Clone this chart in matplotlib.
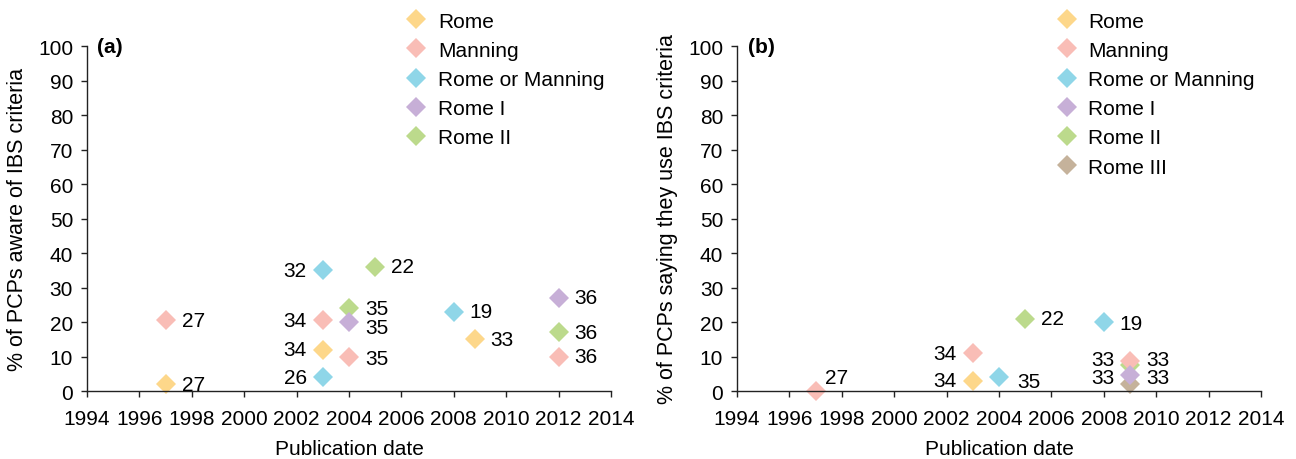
import matplotlib
matplotlib.use("Agg")
import matplotlib.pyplot as plt
from matplotlib.lines import Line2D

plt.rcParams["font.family"] = ["Liberation Sans", "DejaVu Sans"]
plt.rcParams["font.size"] = 15

# colours per criteria
COLORS = {
    "Rome": "#FDD78A",
    "Manning": "#F9BDB6",
    "Rome or Manning": "#8FD6E8",
    "Rome I": "#C7AFD7",
    "Rome II": "#BCDA8C",
    "Rome III": "#C5B29B",
}

# (a) awareness of IBS criteria
a_legend = ["Rome", "Manning", "Rome or Manning", "Rome I", "Rome II"]
a_series = ["Manning", "Rome", "Rome or Manning", "Manning", "Rome", "Rome or Manning",
            "Rome II", "Rome I", "Manning", "Rome II", "Rome or Manning", "Rome",
            "Rome I", "Rome II", "Manning"]
a_year = [1997, 1997, 2003, 2003, 2003, 2003, 2004, 2004, 2004, 2005, 2008, 2008.8,
          2012, 2012, 2012]
a_pct = [20.5, 2, 35, 20.5, 12, 4, 24, 20, 10, 36, 23, 15, 27, 17, 10]
a_ref = ["27", "27", "32", "34", "34", "26", "35", "35", "35", "22", "19", "33",
         "36", "36", "36"]

# (b) use of IBS criteria
b_legend = ["Rome", "Manning", "Rome or Manning", "Rome I", "Rome II", "Rome III"]
b_series = ["Manning", "Manning", "Rome", "Rome or Manning", "Rome II", "Rome or Manning",
            "Rome II", "Manning", "Rome III", "Rome I"]
b_year = [1997, 2003, 2003, 2004, 2005, 2008, 2009, 2009, 2009, 2009]
b_pct = [0, 11, 3, 4, 21, 20, 7.5, 8.8, 2, 4.5]
b_ref = ["27", "34", "34", "35", "22", "19", "33", "33", "33", "33"]

# label placement (pixel offsets from the marker, y up)
R, L = (16, 0), (-16, 0)
a_offsets = [R, R, L, L, L, L, R, (16, -5), (16, -2), R, R, R, R, R, R]
b_offsets = [(9, 14), L, L, (18, -4), R, (16, -1), (-16, 6), (16, 1.5), (-16, 6.5), (16, -2.5)]

ylabels = ["% of PCPs aware of IBS criteria", "% of PCPs saying they use IBS criteria"]
tags = ["(a)", "(b)"]

fig = plt.figure(figsize=(12.96, 4.6), dpi=100)
ax_a = fig.add_axes([0.0671, 0.1478, 0.4043, 0.75])
ax_b = fig.add_axes([0.5687, 0.1478, 0.4043, 0.75])

panels = [
    (ax_a, a_legend, a_series, a_year, a_pct, a_ref, a_offsets),
    (ax_b, b_legend, b_series, b_year, b_pct, b_ref, b_offsets),
]

for i, (ax, legend, series, year, pct, ref, offs) in enumerate(panels):
    for s, x, y, r, off in zip(series, year, pct, ref, offs):
        ax.plot(x, y, "D", color=COLORS[s], markersize=9.8, markeredgewidth=0,
                clip_on=False)
        ax.annotate(r, (x, y), xytext=off, textcoords="offset pixels",
                    ha="left" if off[0] > 0 else "right", va="center", fontsize=15)

    ax.set_xlim(1994, 2014)
    ax.set_ylim(0, 100)
    ax.set_xticks(range(1994, 2015, 2))
    ax.set_yticks(range(0, 101, 10))
    for side in ["top", "right"]:
        ax.spines[side].set_visible(False)
    for side in ["left", "bottom"]:
        ax.spines[side].set_linewidth(1.0)
        ax.spines[side].set_color("#222222")
    ax.tick_params(direction="out", length=4, width=1.0, color="#222222",
                   labelsize=15)
    ax.tick_params(axis="x", pad=9)
    ax.tick_params(axis="y", pad=6)

    ax.set_xlabel("Publication date", fontsize=15)
    ax.xaxis.set_label_coords(0.5, -0.14)
    ax.set_ylabel(ylabels[i], fontsize=15.5)
    ax.yaxis.set_label_coords(-0.112, 0.5)

    ax.text(1994.4, 100, tags[i], fontweight="bold", va="center", ha="left",
            fontsize=15)

    handles = [Line2D([], [], marker="D", linestyle="none", color=COLORS[s],
                      markersize=9.8, markeredgewidth=0) for s in legend]
    ax.legend(handles, legend, loc="upper left", bbox_to_anchor=(0.609, 1.10),
              frameon=False, borderpad=0, borderaxespad=0, handlelength=1.0,
              handletextpad=0.54, labelspacing=0.49, fontsize=15)

fig.savefig("out.png", dpi=100)
